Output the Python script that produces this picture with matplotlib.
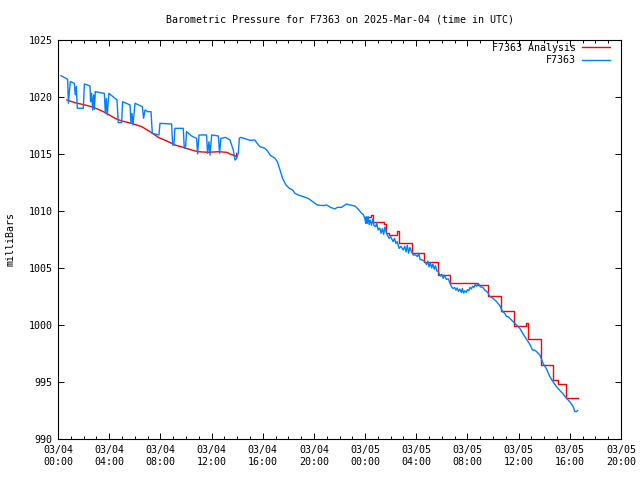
import matplotlib
matplotlib.use("Agg")
import matplotlib.pyplot as plt

plt.rcParams['font.family'] = ['DejaVu Sans Mono']
plt.rcParams['font.size'] = 7.2

# hours since 2025-03-04 00:00 UTC
f7363_hours = [
    0.235, 0.755, 0.81, 0.96, 1.28, 1.35, 1.43, 1.51, 1.98, 2.06, 2.50, 2.55, 2.63, 2.71,
    2.79, 2.84, 2.92, 3.28, 3.62, 3.70, 3.78, 3.85, 3.98, 4.45, 4.61, 4.71, 4.97, 5.05,
    5.63, 5.70, 5.78, 5.86, 6.02, 6.59, 6.69, 6.80, 7.01, 7.27, 7.37, 7.89, 7.97, 8.88,
    8.96, 9.06, 9.14, 9.79, 9.87, 9.97, 10.05, 10.44, 10.83, 10.91, 11.02, 11.61, 11.69,
    11.80, 11.88, 12.01, 12.53, 12.63, 12.73, 13.10, 13.44, 13.70, 13.83, 13.96, 14.09,
    14.17, 14.27,
    14.6, 15.0, 15.39, 15.52, 15.78, 16.17, 16.36, 16.57, 16.96, 17.14, 17.35, 17.55,
    17.82, 18.08, 18.34, 18.52, 18.78, 19.17, 19.56, 19.9, 20.26, 20.73, 20.99, 21.3,
    21.64, 21.83, 22.16, 22.55, 22.81, 23.21, 23.47, 23.73,
    23.85, 23.98, 24.05, 24.1, 24.17, 24.24, 24.32, 24.4, 24.5, 24.6, 24.7, 24.84, 24.9,
    25.02, 25.15, 25.25, 25.35, 25.45, 25.55, 25.67, 25.88, 26.0, 26.19, 26.3, 26.4,
    26.51, 26.66, 26.8, 26.98, 27.1, 27.2, 27.3, 27.4, 27.5, 27.63, 27.76, 27.95, 28.1,
    28.2, 28.3, 28.49, 28.67, 28.8, 28.9, 29.0, 29.1, 29.2, 29.3, 29.4, 29.5, 29.6, 29.7,
    29.8, 29.9, 30.0, 30.1, 30.2, 30.36, 30.5, 30.62, 30.75, 30.88, 31.0, 31.1, 31.2,
    31.3, 31.4, 31.53, 31.6, 31.7, 31.8, 31.9, 32.0, 32.1, 32.2, 32.3, 32.4, 32.5, 32.6,
    32.7, 32.85, 33.0, 33.2, 33.36, 33.5, 33.62,
    33.75, 34.0, 34.27, 34.53, 34.74, 34.92, 35.05, 35.18, 35.44, 35.7, 36.09, 36.35,
    36.61, 36.88, 37.08, 37.25, 37.4, 37.66, 37.92, 38.18, 38.44, 38.7, 38.96, 39.22,
    39.48, 39.74, 40.0, 40.26, 40.39, 40.52, 40.62,
]
f7363_mb = [
    1021.87, 1021.55, 1019.45, 1021.35, 1021.2, 1020.18, 1020.91, 1019.01, 1019.01,
    1021.14, 1020.97, 1019.59, 1020.32, 1018.86, 1020.18, 1018.92, 1020.47, 1020.38,
    1020.32, 1018.57, 1019.88, 1018.42, 1020.32, 1019.88, 1019.74, 1017.75, 1017.75,
    1019.59, 1019.30, 1017.69, 1018.57, 1017.54, 1019.45, 1019.15, 1018.13, 1018.86,
    1018.71, 1018.71, 1016.81, 1016.67, 1017.69, 1017.63, 1015.79, 1015.79, 1017.25,
    1017.25, 1015.50, 1015.64, 1016.96, 1016.58, 1016.37, 1015.0, 1016.67, 1016.67,
    1015.06, 1016.08, 1014.91, 1016.67, 1016.58, 1015.06, 1016.37, 1016.46, 1016.23,
    1015.35, 1014.47, 1014.6, 1015.06, 1016.37, 1016.46,
    1016.35, 1016.2, 1016.23, 1016.0, 1015.64, 1015.50, 1015.29, 1014.91, 1014.62,
    1014.33, 1013.6, 1012.87, 1012.28, 1011.99, 1011.84, 1011.55, 1011.4, 1011.26,
    1011.11, 1010.82, 1010.53, 1010.47, 1010.53, 1010.32, 1010.18, 1010.32, 1010.32,
    1010.61, 1010.53, 1010.44, 1010.15, 1009.8,
    1009.7, 1009.36, 1008.92, 1009.5, 1008.9, 1009.5, 1008.8, 1009.2, 1008.75, 1009.3,
    1008.7, 1008.63, 1009.0, 1008.33, 1008.5, 1008.05, 1008.45, 1007.95, 1008.6, 1008.04,
    1007.6, 1007.75, 1007.31, 1007.6, 1007.15, 1007.31, 1006.72, 1006.9, 1006.58,
    1006.9, 1006.4, 1007.0, 1006.3, 1006.8, 1006.43, 1006.14, 1006.14, 1006.0, 1006.3,
    1005.75, 1005.7, 1005.55, 1005.3, 1005.6, 1005.1, 1005.45, 1005.0, 1005.35, 1004.9,
    1005.2, 1004.75, 1004.7, 1004.5, 1004.3, 1004.45, 1004.1, 1004.35, 1004.0, 1004.05,
    1003.7, 1003.36, 1003.2, 1003.3, 1003.05, 1003.25, 1002.95, 1003.15, 1002.85,
    1003.2, 1002.8, 1003.0, 1002.85, 1003.1, 1003.0, 1003.3, 1003.15, 1003.4, 1003.3,
    1003.55, 1003.4, 1003.65, 1003.35, 1003.3, 1003.05, 1002.95, 1002.78,
    1002.5, 1002.34, 1002.05, 1001.7, 1001.17, 1001.03, 1000.75, 1000.73, 1000.44,
    1000.15, 999.71, 999.2, 998.75, 998.3, 997.81, 997.8, 997.66, 997.37, 996.6, 996.15,
    995.47, 995.0, 994.59, 994.25, 993.95, 993.57, 993.27, 992.84, 992.4, 992.4, 992.5,
]

# analysis, first (smooth) part
analysis1_hours = [0.7, 1.33, 2.11, 2.63, 3.15, 3.8, 4.45, 4.97, 5.76, 6.54, 7.19, 7.84,
                   8.62, 9.14, 9.79, 10.44, 10.96, 11.74, 12.53, 13.18, 13.44, 13.83,
                   13.96, 13.96]
analysis1_mb = [1019.74, 1019.5, 1019.3, 1019.15, 1018.92, 1018.57, 1018.13, 1017.9,
                1017.69, 1017.4, 1016.96, 1016.46, 1016.08, 1015.79, 1015.58, 1015.35,
                1015.2, 1015.15, 1015.2, 1015.15, 1015.0, 1014.85, 1014.75, 1015.05]

# analysis, second (stepped) part
analysis2_hours = [23.98, 24.5, 24.62, 25.5, 25.62, 25.85, 26.5, 26.65, 27.68, 28.62,
                   29.66, 30.62, 32.75, 33.62, 34.63, 35.65, 36.6, 36.7, 37.72, 38.65,
                   39.09, 39.69, 40.65]
analysis2_mb = [1009.5, 1009.65, 1009.05, 1008.9, 1008.1, 1007.9, 1008.25, 1007.2,
                1006.35, 1005.56, 1004.42, 1003.7, 1003.5, 1002.55, 1001.26, 999.9,
                1000.15, 998.75, 996.5, 995.2, 994.83, 993.6, 993.6]

xtick_hours = list(range(0, 45, 4))
xtick_labels = ["03/04\n00:00", "03/04\n04:00", "03/04\n08:00", "03/04\n12:00",
                "03/04\n16:00", "03/04\n20:00", "03/05\n00:00", "03/05\n04:00",
                "03/05\n08:00", "03/05\n12:00", "03/05\n16:00", "03/05\n20:00"]

fig = plt.figure(figsize=(6.4, 4.8), dpi=100)
ax = fig.add_axes([58 / 640, 41 / 480, 563 / 640, 399 / 480])

red_line, = ax.plot(analysis1_hours, analysis1_mb, color='#ff0000', lw=1.0)
ax.plot(analysis2_hours, analysis2_mb, color='#ff0000', lw=1.0, drawstyle='steps-post')
blue_line, = ax.plot(f7363_hours, f7363_mb, color='#0080ff', lw=1.0)

ax.set_xlim(0, 44)
ax.set_ylim(990, 1025)
ax.set_xticks(xtick_hours)
ax.set_xticklabels(xtick_labels, linespacing=1.3)
ax.set_xticks(range(0, 45), minor=True)
ax.set_yticks(range(990, 1026, 5))

ax.tick_params(which='both', direction='in', top=True, right=True, width=0.7)
ax.tick_params(which='major', length=4.5, pad=4)
ax.tick_params(which='minor', length=2.2)
for sp in ax.spines.values():
    sp.set_linewidth(0.8)

ax.set_title("Barometric Pressure for F7363 on 2025-Mar-04 (time in UTC)", pad=12.5,
             fontsize=7.2)
ax.set_ylabel("milliBars", labelpad=9)

ax.legend([red_line, blue_line], ["F7363 Analysis", "F7363"], loc='upper right',
          bbox_to_anchor=(0.9805, 0.9925), borderaxespad=0, borderpad=0,
          markerfirst=False, frameon=False, handlelength=2.8, handletextpad=0.6,
          labelspacing=0.25)

fig.savefig("out.png", dpi=100)
